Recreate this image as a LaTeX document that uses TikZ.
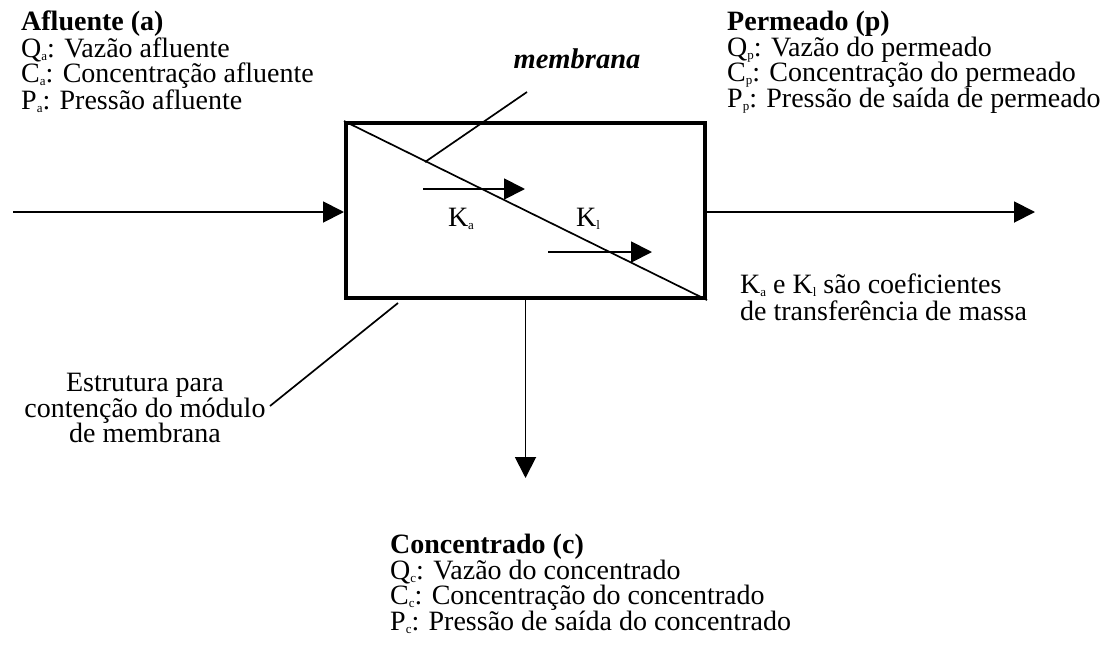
\documentclass[tikz,border=0pt]{standalone}
\usepackage{fontspec}
\setmainfont{Liberation Serif}
\usetikzlibrary{arrows.meta}
\newcommand\sbx[1]{\raisebox{-3pt}{\fontsize{13}{13}\selectfont #1}}
\begin{document}
\begin{tikzpicture}[x=1pt,y=-1pt,
  txt/.style={inner sep=0pt,align=left,font=\fontsize{28}{25.4}\selectfont},
  flow/.style={line width=1.9pt,-{Triangle[length=21pt,width=21pt]}},
  thin/.style={line width=1.7pt},
  modbox/.style={draw,line width=4pt,minimum width=359pt,minimum height=175pt,inner sep=0pt}]
\useasboundingbox[fill=white] (0,0) rectangle (1115,648);
\node[modbox] (box) at (525.5,210.5) {};
\draw[thin] (box.north west) -- (box.south east);
% membrane leader
\coordinate (memA) at (527,92);
\coordinate (memB) at (425,162);
\draw[thin] (memA) -- (memB);
\node[txt,font=\fontsize{28.5}{25}\selectfont\bfseries\itshape] (mem) at (577,59) {membrana};
% internal arrows
\coordinate (ka1) at (423,189); \coordinate (ka2) at (525,189);
\coordinate (k11) at (548,252); \coordinate (k12) at (652,252);
\draw[flow] (ka1) -- (ka2);
\draw[flow] (k11) -- (k12);
\node[txt] (ka) at (461,219) {K\sbx{a}};
\node[txt] (k1) at (588,219) {K\sbx{l}};
% flows
\coordinate (inS) at (13,212);
\coordinate (outE) at (1035,212);
\coordinate (downE) at (525.5,478);
\draw[flow] (inS) -- (box.west |- inS);
\draw[flow] (box.east |- outE) -- (outE);
\draw[flow] (box.south) -- (downE);
% structure leader
\coordinate (stA) at (398,303);
\coordinate (stB) at (270,406);
\draw[thin] (stA) -- (stB);
% text blocks
\node[txt,anchor=north west] (afl) at (21,11) {\textbf{Afluente (a)}\\Q\sbx{a}: Vazão afluente\\C\sbx{a}: Concentração afluente\\P\sbx{a}: Pressão afluente};
\node[txt,anchor=north west] (perm) at (727,11) {\textbf{Permeado (p)}\\Q\sbx{p}: Vazão do permeado\\C\sbx{p}: Concentração do permeado\\P\sbx{p}: Pressão de saída de permeado};
\node[txt,anchor=north west] (conc) at (390,534) {\textbf{Concentrado (c)}\\Q\sbx{c}: Vazão do concentrado\\C\sbx{c}: Concentração do concentrado\\P\sbx{c}: Pressão de saída do concentrado};
\node[txt,align=center] (estr) at (145,408) {Estrutura para\\contenção do módulo\\de membrana};
\node[txt,anchor=north west,font=\fontsize{28}{26.5}\selectfont] (coef) at (740,274) {K\sbx{a} e K\sbx{l} são coeficientes\\de transferência de massa};
\end{tikzpicture}
\end{document}
